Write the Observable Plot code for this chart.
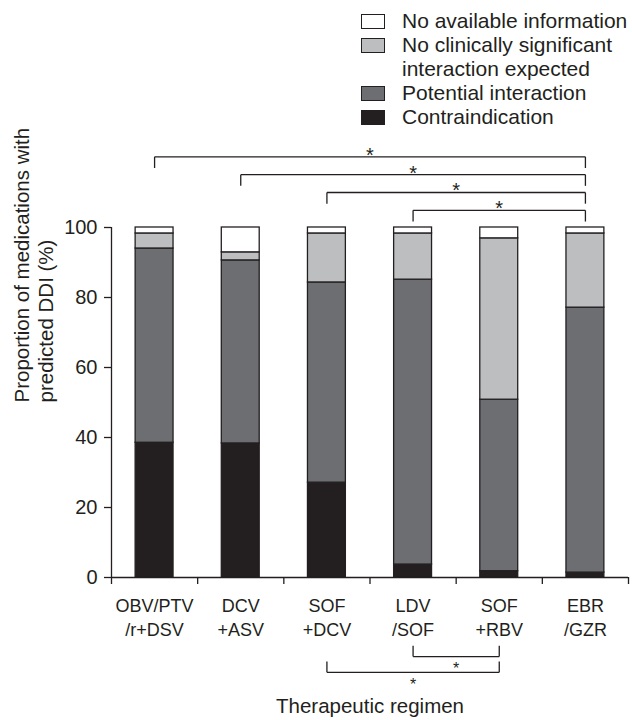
<!DOCTYPE html>
<html><head><meta charset="utf-8">
<script src="https://cdn.jsdelivr.net/npm/d3@7"></script>
<script src="https://cdn.jsdelivr.net/npm/@observablehq/plot@0.6"></script>
<style>
body{margin:0;background:#fff;font-family:"Liberation Sans",Arial,sans-serif;color:#231f20}
#wrap{position:relative;width:632px;height:720px}
#legend{position:absolute;left:361px;top:9px;display:grid;grid-template-columns:24px auto;column-gap:17px;font-size:21px;line-height:24px;white-space:pre-line}
.sw{width:24px;height:15px;box-sizing:border-box;border:1.5px solid #231f20;margin-top:4.5px}
</style></head><body><div id="wrap"><div id="legend"></div></div>
<script>
const regimens = ["OBV/PTV/r+DSV", "DCV+ASV", "SOF+DCV", "LDV/SOF", "SOF+RBV", "EBR/GZR"];
const tickLabels = ["OBV/PTV\n/r+DSV", "DCV\n+ASV", "SOF\n+DCV", "LDV\n/SOF", "SOF\n+RBV", "EBR\n/GZR"];
const seriesNames = ["Contraindication", "Potential interaction", "No clinically significant interaction expected", "No available information"];
const seriesColors = ["#231f20", "#6d6e71", "#bcbec0", "#ffffff"];
const contraindication = [38.5, 38.3, 27.1, 3.7, 1.8, 1.4];
const potentialInteraction = [55.5, 52.3, 57.2, 81.4, 49.0, 75.7];
const noSignificant = [4.3, 2.3, 14.0, 13.2, 46.1, 21.2];
const noInformation = [1.7, 7.1, 1.7, 1.7, 3.1, 1.7];
const legendLabels = ["No available information", "No clinically significant\ninteraction expected", "Potential interaction", "Contraindication"];
const yTicks = [0, 20, 40, 60, 80, 100];
const topComparisons = [["OBV/PTV/r+DSV", "EBR/GZR"], ["DCV+ASV", "EBR/GZR"], ["SOF+DCV", "EBR/GZR"], ["LDV/SOF", "EBR/GZR"]];
const bottomComparisons = [["LDV/SOF", "SOF+RBV"], ["SOF+DCV", "SOF+RBV"]];
const yTitle = "Proportion of medications with\npredicted DDI (%)";
const xTitle = "Therapeutic regimen";
const sigMark = "*";

const seriesValues = [contraindication, potentialInteraction, noSignificant, noInformation];
const table = [];
seriesNames.forEach((s, k) => regimens.forEach((r, i) => table.push({regimen: r, i, series: s, value: seriesValues[k][i]})));

const idx = r => regimens.indexOf(r);
const segs = [];
const stars = [];
topComparisons.forEach(([a, b], k) => {
  const lv = 104.9 + 5.1 * (topComparisons.length - 1 - k);
  const xa = idx(a) + 0.5, xb = idx(b) + 0.5;
  segs.push({x1: xa, x2: xb, y1: lv, y2: lv}, {x1: xa, x2: xa, y1: lv, y2: lv - 3.2}, {x1: xb, x2: xb, y1: lv, y2: lv - 3.2});
  stars.push({x: (xa + xb) / 2, y: lv, pos: "top"});
});
bottomComparisons.forEach(([a, b], k) => {
  const lv = -22.6 - 4.5 * k;
  const xa = idx(a) + 0.5, xb = idx(b) + 0.5;
  segs.push({x1: xa, x2: xb, y1: lv, y2: lv}, {x1: xa, x2: xa, y1: lv, y2: lv + 3.1}, {x1: xb, x2: xb, y1: lv, y2: lv + 3.1});
  stars.push({x: (xa + xb) / 2, y: lv, pos: "bottom"});
});

const ink = "#231f20";
const chart = Plot.plot({
  width: 632, height: 720,
  marginLeft: 111, marginRight: 4, marginTop: 227, marginBottom: 143,
  style: {fontFamily: "'Liberation Sans', Arial, sans-serif", fontSize: "19px", color: ink, background: "#fff", overflow: "visible"},
  x: {domain: [0, regimens.length], axis: null},
  y: {domain: [0, 100]},
  color: {domain: seriesNames, range: seriesColors},
  marks: [
    Plot.rectY(table, Plot.stackY({x1: d => d.i + 0.28, x2: d => d.i + 0.72, y: "value", fill: "series", stroke: ink, strokeWidth: 1.3})),
    Plot.ruleY([0], {stroke: ink, strokeWidth: 1.3}),
    Plot.ruleX([0], {y1: 0, y2: 100, stroke: ink, strokeWidth: 1.3}),
    Plot.ruleX(d3.range(regimens.length + 1), {y1: 0, y2: -2, stroke: ink, strokeWidth: 1.3}),
    Plot.axisY({ticks: yTicks, tickSize: 7, tickPadding: 7, fontSize: 20, label: null, stroke: ink, strokeWidth: 1.3}),
    Plot.text(regimens, {x: (d, i) => i + 0.5, frameAnchor: "bottom", text: (d, i) => tickLabels[i], lineAnchor: "top", dy: 17.5, fontSize: 18, lineHeight: 1.333, fill: ink}),
    Plot.text([yTitle], {frameAnchor: "left", rotate: -90, dx: -78, fontSize: 20.5, lineHeight: 1.17, fill: ink}),
    Plot.text([xTitle], {frameAnchor: "bottom", dy: 135, fontSize: 20.5, fill: ink}),
    Plot.link(segs, {x1: "x1", x2: "x2", y1: "y1", y2: "y2", stroke: ink, strokeWidth: 1.3}),
    Plot.text(stars.filter(d => d.pos === "top"), {x: "x", y: "y", text: () => sigMark, dy: -1.5, fontSize: 20, fill: ink}),
    Plot.text(stars.filter(d => d.pos === "bottom"), {x: "x", y: "y", text: () => sigMark, dy: 12.5, fontSize: 16, fill: ink})
  ]
});
document.getElementById("wrap").prepend(chart);

const legend = document.getElementById("legend");
legendLabels.forEach((lab, j) => {
  const k = seriesNames.length - 1 - j;
  const sw = document.createElement("div");
  sw.className = "sw";
  sw.style.background = seriesColors[k];
  const tx = document.createElement("div");
  tx.textContent = lab;
  legend.append(sw, tx);
});
</script></body></html>
